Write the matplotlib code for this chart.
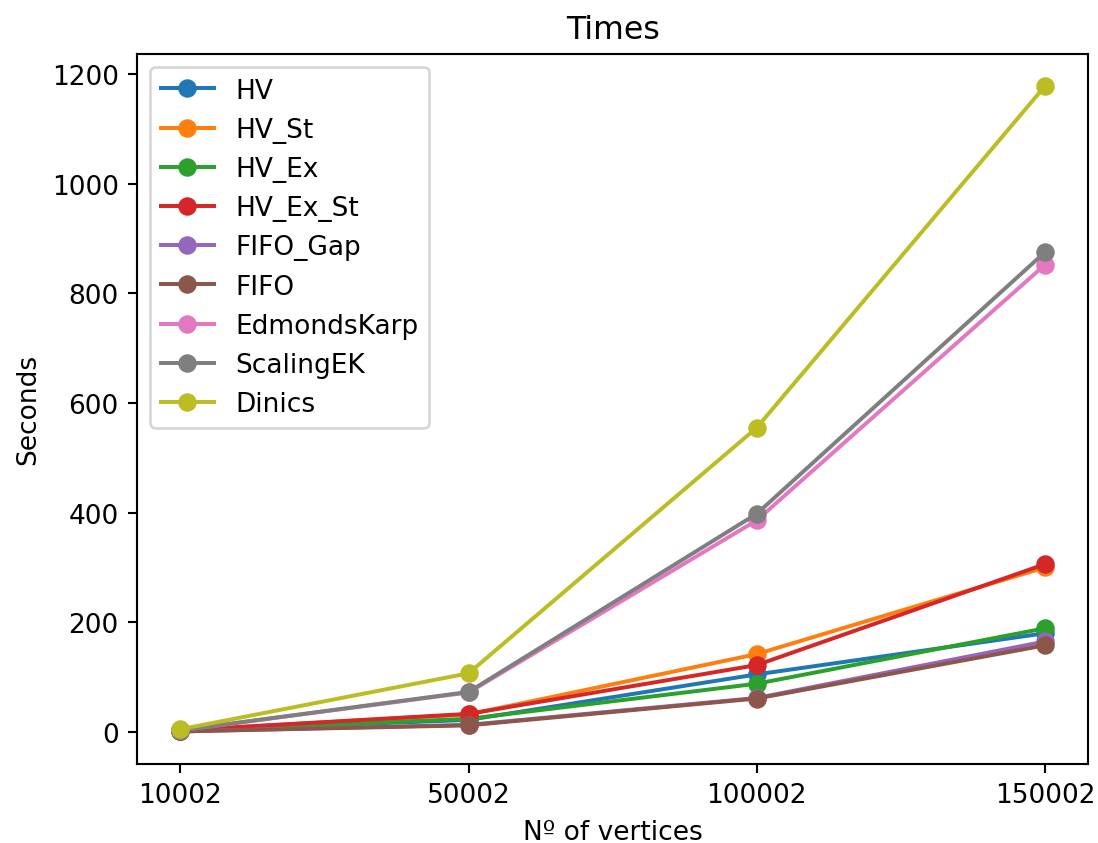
import matplotlib as mpl
import matplotlib.pyplot as plt

mpl.use('Agg')

vertices = ["10002", "50002", "100002", "150002"]

hv = [2, 22, 105, 180]
hv_st = [3, 32, 142, 300]
hv_ex = [2, 24, 88, 189]
hv_ex_st = [3, 33, 122, 306]
fifo_gap = [1, 13, 62, 165]
fifo = [1, 12, 61, 158]
edmonds_karp = [3, 72, 386, 852]
scaling_ek = [3, 73, 398, 875]
dinics = [5, 107, 555, 1178]

series = [
    ("HV", hv),
    ("HV_St", hv_st),
    ("HV_Ex", hv_ex),
    ("HV_Ex_St", hv_ex_st),
    ("FIFO_Gap", fifo_gap),
    ("FIFO", fifo),
    ("EdmondsKarp", edmonds_karp),
    ("ScalingEK", scaling_ek),
    ("Dinics", dinics),
]

fig = plt.figure(figsize=(1098 / 190, 844 / 190), dpi=190)
ax = fig.add_axes([0.125, 0.094, 0.866, 0.841])
for name, vals in series:
    ax.plot(vertices, vals, marker='o', label=name)

ax.set_title("Times")
ax.set_xlabel("Nº of vertices")
ax.set_ylabel("Seconds")
ax.legend(loc='upper left')
fig.savefig("out.png", dpi=190)
